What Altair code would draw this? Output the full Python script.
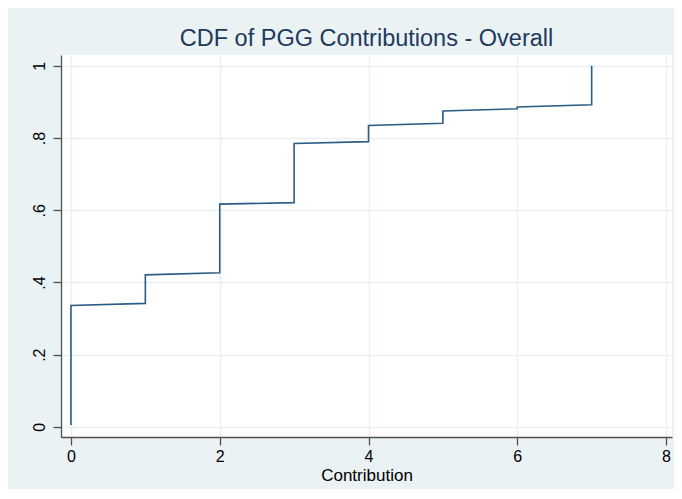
import altair as alt
import pandas as pd

contribution = [0, 0, 1, 1, 2, 2, 3, 3, 4, 4, 5, 5, 6, 6, 7, 7]
cdf = [0.005, 0.336, 0.342, 0.421, 0.427, 0.617, 0.621, 0.785,
       0.790, 0.835, 0.841, 0.875, 0.881, 0.886, 0.892, 1.0]
x_ticks = [0, 2, 4, 6, 8]
y_ticks = [0, 0.2, 0.4, 0.6, 0.8, 1.0]

df = pd.DataFrame({"Contribution": contribution, "cdf": cdf,
                   "idx": list(range(len(cdf)))})

axis_common = dict(
    domainColor="#505050", domainWidth=1.3, tickColor="#505050", tickWidth=1.3,
    tickSize=8, gridColor="#E8F0F1", gridWidth=1.5, labelColor="#000000",
    labelFont="Liberation Sans", labelFontSize=16, titleFont="Liberation Sans",
    titleFontSize=17, titleFontWeight="normal", titleColor="#000000",
)

chart = alt.Chart(df).mark_line(color="#2b5c85", strokeWidth=1.6).encode(
    x=alt.X("Contribution:Q",
            scale=alt.Scale(domain=[-0.134, 8.08], nice=False, zero=False),
            axis=alt.Axis(values=x_ticks, title="Contribution", labelPadding=3,
                          titlePadding=3, **axis_common)),
    y=alt.Y("cdf:Q",
            scale=alt.Scale(domain=[-0.028, 1.03], nice=False, zero=False),
            axis=alt.Axis(values=y_ticks, title=None, labelAngle=270,
                          labelAlign="center", labelBaseline="bottom", labelPadding=6,
                          labelExpr="datum.value == 0 ? '0' : datum.value == 1 ? '1' : replace(format(datum.value, '.1f'), '0.', '.')",
                          **axis_common)),
    order="idx:Q",
).properties(
    width=611, height=382,
    title=alt.TitleParams("CDF of PGG Contributions - Overall", font="Liberation Sans",
                          fontSize=23.5, fontWeight="normal", color="#1e3a5f",
                          anchor="middle", offset=5),
    autosize=alt.AutoSizeParams(type="none"),
    padding={"left": 53, "top": 47, "right": 2, "bottom": 52},
).configure(background="#EAF2F3").configure_view(fill="white", stroke=None)

chart.save("out.html", embed_options={"renderer": "svg", "actions": False})
